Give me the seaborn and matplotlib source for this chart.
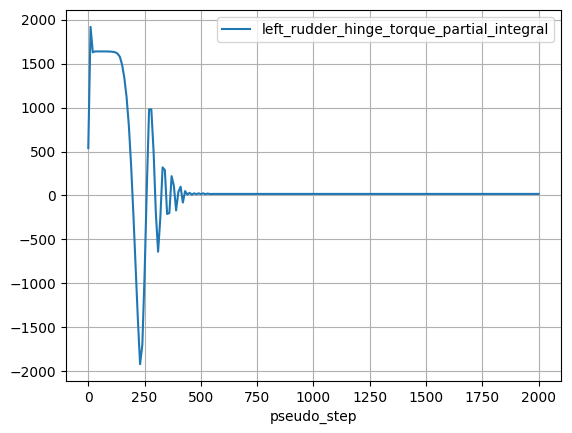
import matplotlib
matplotlib.use("Agg")
import matplotlib.pyplot as plt
import pandas as pd
import seaborn as sns

# pseudo_step values (sampled every 10 steps in the transient, sparse in the flat tail)
pseudo_step = [
    0, 10, 20, 30, 40, 60, 80, 100, 110, 120, 130, 140, 150, 160, 170, 180, 190,
    200, 210, 220, 230, 240, 250, 260, 270, 280, 290, 300, 310, 320, 330, 340,
    350, 360, 370, 380, 390, 400, 410, 420, 430, 440, 450, 460, 470, 480, 490,
    500, 510, 520, 530, 540, 560, 600, 800, 1000, 1200, 1400, 1600, 1800, 2000,
]
torque_integral = [
    540, 1920, 1630, 1640, 1640, 1640, 1640, 1638, 1635, 1630, 1615, 1580, 1490,
    1340, 1120, 800, 350, -200, -800, -1400, -1920, -1700, -900, 100, 980, 980,
    500, -200, -640, -250, 320, 290, -210, -200, 220, 110, -170, 40, 100, -80,
    50, 10, 30, 10, 25, 15, 25, 15, 25, 15, 22, 17, 18, 18, 18, 18, 18, 18, 18,
    18, 18,
]

df = pd.DataFrame({
    "pseudo_step": pseudo_step,
    "left_rudder_hinge_torque_partial_integral": torque_integral,
})

fig, ax = plt.subplots(figsize=(5.72, 4.33), dpi=100)
fig.subplots_adjust(left=0.115, right=0.981, top=0.977, bottom=0.12)

sns.lineplot(
    data=df,
    x="pseudo_step",
    y="left_rudder_hinge_torque_partial_integral",
    ax=ax,
    label="left_rudder_hinge_torque_partial_integral",
)
ax.set_ylabel("")
ax.set_xlabel("pseudo_step")
ax.grid(True)
ax.legend(loc="upper right")

fig.savefig("out.png", dpi=100)
